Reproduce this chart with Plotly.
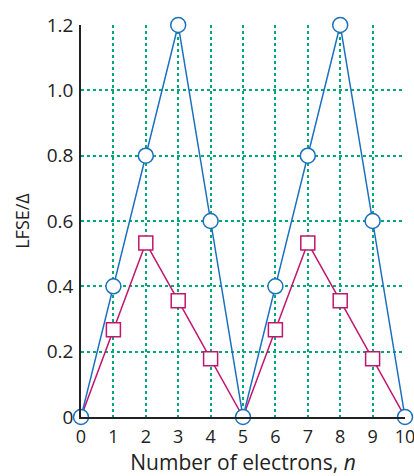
import plotly.graph_objects as go

# number of d electrons
electrons = [0, 1, 2, 3, 4, 5, 6, 7, 8, 9, 10]
# LFSE / Delta, octahedral (circles) and tetrahedral (squares)
octahedral = [0, 0.4, 0.8, 1.2, 0.6, 0, 0.4, 0.8, 1.2, 0.6, 0]
tetrahedral = [0, 0.267, 0.533, 0.356, 0.178, 0, 0.267, 0.533, 0.356, 0.178, 0]
y_ticks = [0, 0.2, 0.4, 0.6, 0.8, 1.0, 1.2]
y_tick_text = ["0", "0.2", "0.4", "0.6", "0.8", "1.0", "1.2"]

blue = "#1a6fbf"
magenta = "#c0166e"
grid = "#00a878"

# squares at zero sit under the circles in the original, so hide them
sq_opacity = [1 if v > 0 else 0 for v in tetrahedral]

fig = go.Figure()
fig.add_trace(go.Scatter(
    x=electrons, y=tetrahedral, mode="lines+markers",
    line=dict(color=magenta, width=1.5),
    marker=dict(symbol="square", size=14, color="white", opacity=sq_opacity,
                line=dict(color=magenta, width=1.5)),
    cliponaxis=False, showlegend=False))
fig.add_trace(go.Scatter(
    x=electrons, y=octahedral, mode="lines+markers",
    line=dict(color=blue, width=1.5),
    marker=dict(symbol="circle", size=15, color="white", line=dict(color=blue, width=1.5)),
    cliponaxis=False, showlegend=False))

fig.update_layout(
    width=414, height=476,
    margin=dict(l=81, r=9, t=25, b=59),
    plot_bgcolor="white", paper_bgcolor="white",
    font=dict(family="Open Sans, Liberation Sans, sans-serif", size=19, color="#222"),
)
fig.update_xaxes(
    range=[0, 10], tickvals=electrons, showgrid=True, gridcolor=grid,
    griddash="dot", gridwidth=1.5, zeroline=False, showline=True,
    linecolor="#222", linewidth=1.5, ticks="", automargin=False,
    ticklabeloverflow="allow", tickfont=dict(size=18), ticklabelstandoff=3,
    title=dict(text="Number of electrons, <i>n</i>", standoff=8, font=dict(size=21)))
fig.update_yaxes(
    range=[0, 1.2], tickvals=y_ticks, ticktext=y_tick_text, showgrid=True,
    gridcolor=grid, griddash="dot", gridwidth=1.5, zeroline=False,
    showline=True, linecolor="#222", linewidth=1.5, ticks="", automargin=False,
    ticklabelstandoff=2,
    title=dict(text="LFSE/Δ", standoff=12, font=dict(size=18)))

# page body has an 8px margin by default, drop it so the figure sits at 0,0
fig.write_html("out.html", config={"displayModeBar": False},
               post_script="document.body.style.margin='0px';")
